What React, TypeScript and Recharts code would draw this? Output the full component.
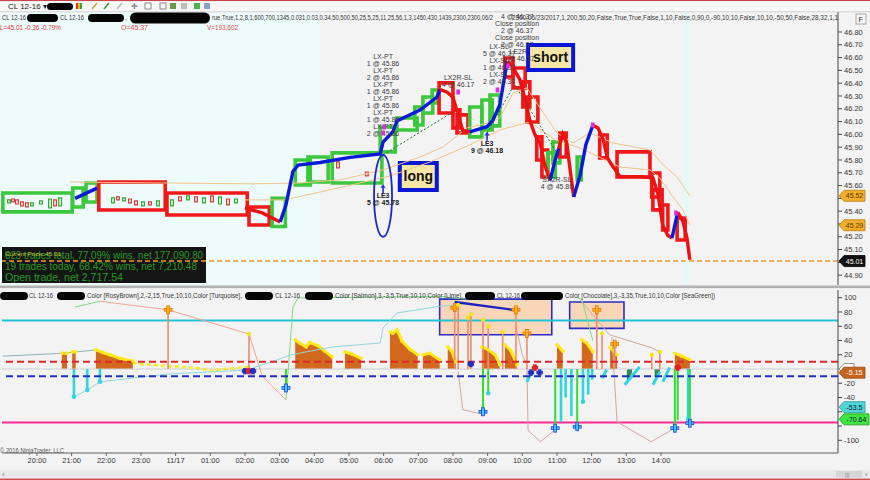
import React from 'react';
import {
  ComposedChart, Line, Area, XAxis, YAxis,
  ReferenceArea, ReferenceLine, ReferenceDot,
} from 'recharts';

const FONT = '"Liberation Sans", Arial, Helvetica, sans-serif';

/* ---------- time axis: minutes after 19:00 on 11/16 ---------- */
const timeTicks = [60, 120, 180, 240, 300, 360, 420, 480, 540, 600, 660, 720, 780, 840, 900, 960, 1020, 1080, 1140];
const timeLabels = ['20:00', '21:00', '22:00', '23:00', '11/17', '01:00', '02:00', '03:00', '04:00', '05:00', '06:00', '07:00', '08:00', '09:00', '10:00', '11:00', '12:00', '13:00', '14:00'];
const timeMin = -0.5;
const timeMax = 1446.4;

/* ---------- price panel ---------- */
const priceTicks = [44.9, 45.0, 45.1, 45.2, 45.3, 45.4, 45.5, 45.6, 45.7, 45.8, 45.9, 46.0, 46.1, 46.2, 46.3, 46.4, 46.5, 46.6, 46.7, 46.8];
const priceTicksUnderFlags = [45.0, 45.3, 45.5];
const priceMin = 44.823;
const priceMax = 46.956;
const lastPrice = 45.01;
const upperEnvLast = 45.52;
const lowerEnvLast = 45.29;

// price path, d = direction of the segment that starts at the point (u up / d down / x none)
const priceLine = [
  { t: 126, p: 45.50, d: 'u' }, { t: 164, p: 45.58, d: 'x' },
  { t: 420, p: 45.425, d: 'd' }, { t: 450, p: 45.386, d: 'd' }, { t: 481, p: 45.316, d: 'u' },
  { t: 491, p: 45.45, d: 'u' }, { t: 503, p: 45.71, d: 'u' }, { t: 512, p: 45.76, d: 'u' }, { t: 550, p: 45.78, d: 'u' },
  { t: 602, p: 45.82, d: 'u' }, { t: 654, p: 45.847, d: 'u' }, { t: 659, p: 45.94, d: 'u' }, { t: 676, p: 46.02, d: 'u' },
  { t: 683, p: 46.105, d: 'u' }, { t: 723, p: 46.19, d: 'u' }, { t: 752, p: 46.29, d: 'u' }, { t: 758, p: 46.35, d: 'd' },
  { t: 770, p: 46.33, d: 'd' }, { t: 780, p: 46.29, d: 'd' }, { t: 789, p: 46.15, d: 'd' }, { t: 797, p: 46.03, d: 'd' },
  { t: 809, p: 46.02, d: 'u' }, { t: 839, p: 46.06, d: 'u' }, { t: 849, p: 46.11, d: 'u' }, { t: 861, p: 46.23, d: 'u' },
  { t: 867, p: 46.39, d: 'u' }, { t: 874, p: 46.57, d: 'd' }, { t: 882, p: 46.54, d: 'd' }, { t: 896, p: 46.425, d: 'd' },
  { t: 905, p: 46.27, d: 'd' }, { t: 913, p: 46.11, d: 'd' }, { t: 922, p: 45.995, d: 'd' }, { t: 931, p: 45.93, d: 'd' },
  { t: 939, p: 45.76, d: 'd' }, { t: 948, p: 45.64, d: 'u' }, { t: 957, p: 45.80, d: 'u' }, { t: 963, p: 45.89, d: 'd' },
  { t: 970, p: 46.00, d: 'd' }, { t: 977, p: 45.93, d: 'd' }, { t: 984, p: 45.68, d: 'd' }, { t: 989, p: 45.51, d: 'u' },
  { t: 1000, p: 45.68, d: 'u' }, { t: 1010, p: 45.92, d: 'u' }, { t: 1022, p: 46.07, d: 'd' }, { t: 1031, p: 46.05, d: 'd' },
  { t: 1040, p: 45.96, d: 'd' }, { t: 1047, p: 45.82, d: 'd' }, { t: 1055, p: 45.76, d: 'd' }, { t: 1069, p: 45.67, d: 'd' },
  { t: 1104, p: 45.67, d: 'd' }, { t: 1126, p: 45.66, d: 'd' }, { t: 1135, p: 45.53, d: 'd' }, { t: 1143, p: 45.29, d: 'd' },
  { t: 1152, p: 45.21, d: 'd' }, { t: 1159, p: 45.19, d: 'u' }, { t: 1164, p: 45.29, d: 'u' }, { t: 1169, p: 45.39, d: 'd' },
  { t: 1178, p: 45.32, d: 'd' }, { t: 1185, p: 45.19, d: 'd' }, { t: 1190, p: 45.02, d: 'x' },
];

// swing boxes
const priceBoxes = [
  { t0: 1, t1: 121, hi: 45.542, lo: 45.394, up: true },
  { t0: 122, t1: 140, hi: 45.581, lo: 45.433, up: true },
  { t0: 145, t1: 164, hi: 45.620, lo: 45.472, up: true },
  { t0: 167, t1: 282, hi: 45.628, lo: 45.409, up: false },
  { t0: 285, t1: 424, hi: 45.542, lo: 45.370, up: false },
  { t0: 427, t1: 462, hi: 45.433, lo: 45.292, up: false },
  { t0: 467, t1: 490, hi: 45.50, lo: 45.28, up: true },
  { t0: 507, t1: 533, hi: 45.80, lo: 45.605, up: true },
  { t0: 529, t1: 564, hi: 45.823, lo: 45.628, up: true },
  { t0: 571, t1: 657, hi: 45.855, lo: 45.620, up: true },
  { t0: 654, t1: 680, hi: 46.058, lo: 45.863, up: true },
  { t0: 683, t1: 718, hi: 46.128, lo: 46.034, up: true },
  { t0: 714, t1: 728, hi: 46.214, lo: 46.073, up: true },
  { t0: 728, t1: 745, hi: 46.292, lo: 46.167, up: true },
  { t0: 744, t1: 754, hi: 46.347, lo: 46.245, up: true },
  { t0: 756, t1: 780, hi: 46.402, lo: 46.167, up: false },
  { t0: 780, t1: 792, hi: 46.191, lo: 46.05, up: false },
  { t0: 787, t1: 806, hi: 46.152, lo: 46.011, up: false },
  { t0: 809, t1: 830, hi: 46.214, lo: 45.98, up: true },
  { t0: 830, t1: 848, hi: 46.269, lo: 46.034, up: true },
  { t0: 844, t1: 861, hi: 46.308, lo: 46.066, up: true },
  { t0: 870, t1: 884, hi: 46.597, lo: 46.448, up: false },
  { t0: 884, t1: 905, hi: 46.519, lo: 46.363, up: false },
  { t0: 901, t1: 913, hi: 46.41, lo: 46.214, up: false },
  { t0: 908, t1: 927, hi: 46.292, lo: 46.097, up: false },
  { t0: 925, t1: 934, hi: 45.98, lo: 45.80, up: false },
  { t0: 934, t1: 944, hi: 45.878, lo: 45.667, up: false },
  { t0: 944, t1: 957, hi: 45.855, lo: 45.667, up: true },
  { t0: 953, t1: 965, hi: 45.941, lo: 45.777, up: true },
  { t0: 965, t1: 976, hi: 46.011, lo: 45.823, up: false },
  { t0: 995, t1: 1002, hi: 45.823, lo: 45.644, up: true },
  { t0: 1034, t1: 1047, hi: 45.995, lo: 45.816, up: false },
  { t0: 1064, t1: 1121, hi: 45.863, lo: 45.667, up: false },
  { t0: 1124, t1: 1138, hi: 45.698, lo: 45.511, up: false },
  { t0: 1126, t1: 1142, hi: 45.566, lo: 45.41, up: false },
  { t0: 1143, t1: 1152, hi: 45.448, lo: 45.253, up: false },
  { t0: 1168, t1: 1182, hi: 45.347, lo: 45.175, up: false },
];

// small bars inside the early boxes [time, open, close]
const miniBars = [
  [11.6, 45.464, 45.488], [18.5, 45.495, 45.472], [25.4, 45.488, 45.456], [34, 45.472, 45.441], [42.7, 45.464, 45.433],
  [51.4, 45.441, 45.464], [67, 45.456, 45.48], [82.6, 45.425, 45.495], [91.3, 45.488, 45.441], [100, 45.441, 45.503],
  [191.6, 45.464, 45.503], [200.2, 45.511, 45.488], [210.6, 45.48, 45.503], [221, 45.495, 45.464], [231.4, 45.48, 45.449],
  [243.5, 45.441, 45.472], [255.6, 45.472, 45.449], [269.5, 45.441, 45.48],
  [293.7, 45.441, 45.488], [307.5, 45.511, 45.48], [321.4, 45.488, 45.519], [335.2, 45.511, 45.472], [349, 45.464, 45.503],
  [362.9, 45.519, 45.472], [376.7, 45.456, 45.511], [390.6, 45.495, 45.449], [404.4, 45.464, 45.495],
  [581, 45.785, 45.738], [631, 45.706, 45.675],
];

const upperEnvT = [117, 429, 515, 585, 659, 723, 763, 804, 849, 861, 884, 908, 925, 960, 988, 1017, 1057, 1121, 1144, 1168, 1190];
const upperEnvP = [45.628, 45.613, 45.62, 45.644, 45.722, 45.823, 45.902, 46.05, 46.097, 46.128, 46.323, 46.363, 46.245, 46.011, 45.933, 46.011, 45.933, 45.878, 45.761, 45.667, upperEnvLast];
const lowerEnvT = [420, 489, 597, 671, 740, 809, 861, 913, 957, 1000, 1069, 1121, 1138, 1161, 1178, 1190];
const lowerEnvP = [45.488, 45.488, 45.597, 45.675, 45.784, 45.917, 46.034, 46.097, 45.956, 45.894, 45.745, 45.722, 45.659, 45.511, 45.409, lowerEnvLast];

const tradeLinks = [
  [659, 45.84, 780, 46.175],
  [839, 46.011, 884, 46.37],
  [887, 46.386, 960, 45.855],
];

const exitMarks = [[659, 46.011], [661, 46.058], [789, 46.331], [857, 46.347], [875, 46.534], [1022, 46.073], [1166, 45.386]];

const textNotes = [
  { t: 659, p: 46.59, lines: ['LX-PT', '1 @ 45.86', 'LX-PT', '2 @ 45.86', 'LX-PT', '1 @ 45.86', 'LX-PT', '1 @ 45.86', 'LX-PT', '1 @ 45.86', 'LX-PT', '2 @ 45.86'] },
  { t: 789, p: 46.425, lines: ['LX2R-SL', '4 @ 46.17'] },
  { t: 960, p: 45.624, lines: ['SX2R-SL', '4 @ 45.86'] },
  { t: 891, p: 46.90, lines: ['4 @ 46.37', 'Close position', '2 @ 46.37', 'Close position', '2 @ 46.37'] },
  { t: 860, p: 46.667, lines: ['LX-SL', '5 @ 46.37', 'LX-SL', '1 @ 46.37', 'LX-SL', '2 @ 46.37'] },
  { t: 893, p: 46.628, lines: ['LE2R', '1 @ 46.37'] },
];

const entries = [
  { t: 659, p: 45.61, name: 'LE3', fill: '5 @ 45.78' },
  { t: 839, p: 46.02, name: 'LE3', fill: '9 @ 46.18' },
];

const tagBoxes = [
  { t0: 688, t1: 752, hi: 45.777, lo: 45.566, text: 'long' },
  { t0: 910, t1: 988, hi: 46.698, lo: 46.503, text: 'short' },
];
const entryCircle = { t: 659, p: 45.519 };

/* ---------- oscillator panel ---------- */
const oscMin = -117.8;
const oscMax = 110.8;
const oscTicks = [100, 80, 60, 40, 20, -20, -40, -60, -80, -100];
const oscTicksUnderFlags = [-60, -80];
const levelHigh = 68;
const levelBuy = 10;
const levelSell = -10;
const levelLow = -75;

const chocoSegments = [
  [[103, 22], [112, 22]],
  [[121, 24], [127, 24]],
  [[162, 27], [174, 23], [186, 20], [204, 15], [226, 11]],
  [[507, 41], [515, 36], [526, 31], [532, 37], [546, 33], [558, 25], [571, 17]],
  [[593, 24], [605, 21], [621, 15]],
  [[671, 52], [676, 50], [683, 55], [692, 39], [705, 28], [719, 20]],
  [[728, 20], [740, 22], [757, 13]],
  [[771, 31], [778, 25], [785, 10]],
  [[830, 31], [841, 27], [853, 20], [861, 6]],
  [[870, 34], [880, 26], [891, 6]],
  [[960, 34], [970, 25]],
  [[1003, 41], [1012, 36], [1022, 24]],
  [[1052, 30], [1064, 20]],
  [[1164, 22], [1176, 18], [1190, 13]],
];
const seaGreenSegments = [
  [[1081, -22], [1090, -5]],
  [[1129, -12], [1138, -4]],
];
const yellowDrift = [[226, 8], [290, 4], [340, 1], [360, -2], [427, 3]];

const tealLine = [[1, 18], [105, 22], [164, 27]];
const turquoiseLine = [[124, -39], [147, -29.5], [169, -18], [288, -7], [424, -1.4], [475, 12.6], [498, 19.6], [572, 31], [654, 36.5], [659, 57.5], [683, 78.5], [757, 88], [790, 90]];
const limeLineA = [[126, 87], [169, 95]];
const limeLineB = [[491, -43.5], [503, 87], [512, 99.6], [757, 102], [800, 98], [818, 99], [830, 96]];
const limeLineC = [[995, 100], [1003, 98], [1012, 70], [1022, 40]];
const salmonLine = [[169, 95], [287, 83], [427, 49], [450, -10], [491, -43.5]];
const rosyLines = [
  [[789, -4], [797, -57], [823, -62], [832, -60]],
  [[889, 60], [900, 20], [908, 5.6], [910, -86], [931, -102], [953, -88], [957, -83]],
  [[1000, 97], [1051, 48], [1123, 30], [1138, 24]],
  [[1055, 45], [1064, -74], [1123, -102], [1153, -88], [1164, -83]],
];
const cyanStrokes = [
  [[908, -18], [918, -2]],
  [[1038, -13], [1046, -1]],
  [[1077, -22], [1090, -10], [1103, 3]],
  [[1126, -22], [1138, -4]],
  [[1143, -18], [1155, 2]],
];

const upSpikeT = [287, 427, 783, 789, 806, 811, 832, 841, 866, 889, 908, 1029, 1038, 1060, 1124, 1138];
const upSpikeV = [83, 49, 86, 90, 72, 77, 69, 60, 52, 83, 50, 83, 50, 35, 20, 24];
const upSpikeMark = ['p', 'd', 'p', 'd', 'd', 'd', 'd', 'd', 'd', 'p', 'p', 'p', 'd', 'p', 'd', 'd'];

const downSpikeT = [124, 147, 169, 491, 832, 841, 957, 967, 975, 985, 995, 1005, 1014, 1021, 1164, 1169, 1187, 1190];
const downSpikeV = [-39, -29.5, -18, -26.6, -60, -34, -83, -74, -40, -66, -81, -46, -36, -15, -83, -72, -70, -76];
const downSpikeKind = ['c', 'c', 'c', 'g', 'g', 'g', 'g', 'c', 'c', 'c', 'g', 'c', 'c', 'c', 'g', 'g', 'c', 'g'];
const downSpikeMark = ['d', 'd', 'd', 'p', 'p', 'd', 'p', 'n', 'n', 'n', 'p', 'd', 'n', 'n', 'p', 'n', 'd', 'p'];

const zeroMarks = [[420, -3, 'b'], [427, -3, 'r'], [434, -3, 'b'], [811, 7, 'b'], [915, -5, 'b'], [922, 2, 'r'], [930, -5, 'b'], [1169, 2, 'r']];

const oscBoxes = [
  { t0: 757, t1: 951, hi: 98, lo: 48 },
  { t0: 982, t1: 1076, hi: 94, lo: 57 },
];
const oscTrend = [783, 94, 884, 83];

const oscFlags = [
  { v: 0, label: '0', fill: '#ffffff', color: '#333', stroke: '#777' },
  { v: -5.15, label: '-5.15', fill: '#c8641e', color: '#fff', stroke: '#9a4a10' },
  { v: -53.5, label: '-53.5', fill: '#4fd6d6', color: '#114', stroke: '#2a9a9a' },
  { v: -70.64, label: '-70.64', fill: '#3ee63e', color: '#114', stroke: '#1e9a1e' },
];
const priceFlags = [
  { v: upperEnvLast, label: '45.52', fill: '#f3ad2c', color: '#5a3a00', stroke: '#c07a10' },
  { v: lowerEnvLast, label: '45.29', fill: '#f3ad2c', color: '#5a3a00', stroke: '#c07a10' },
  { v: lastPrice, label: '45.01', fill: '#111111', color: '#ffffff', stroke: '#000' },
];

/* ---------- helpers ---------- */
const pts = (arr: number[][]) => arr.map(([t, v]) => ({ t, v }));
const zip = (ts: number[], vs: number[]) => ts.map((t, i) => ({ t, v: vs[i] }));
const near = (list: number[], v: number) => list.some((q) => Math.abs(q - v) < 1e-6);

function buildRuns(list: any[]) {
  const runs: any[] = [];
  let i = 0;
  while (i < list.length - 1) {
    const dir = list[i].d;
    let j = i;
    while (j < list.length - 1 && list[j].d === dir) j++;
    if (dir !== 'x') runs.push({ dir, data: list.slice(i, j + 1).map((q: any) => ({ t: q.t, v: q.p })) });
    i = j;
  }
  return runs;
}

const flagShape = (f: any) => (p: any) => {
  const x = p.cx + 1;
  const y = p.cy;
  const w = f.label.length > 5 ? 25 : f.label.length > 2 ? 21 : 10;
  return (
    <g>
      <path d={`M${x},${y} L${x + 5},${y - 5.5} L${x + 5 + w},${y - 5.5} L${x + 5 + w},${y + 5.5} L${x + 5},${y + 5.5} Z`} fill={f.fill} stroke={f.stroke} strokeWidth={0.8} />
      <text x={x + 5 + w / 2} y={y + 2.5} fontSize={7} textAnchor="middle" fill={f.color} fontFamily={FONT}>{f.label}</text>
    </g>
  );
};

const plusShape = (fill: string, edge: string, s = 4) => (p: any) => (
  <g>
    <rect x={p.cx - s} y={p.cy - 1.4} width={s * 2} height={2.8} fill={fill} stroke={edge} strokeWidth={0.7} />
    <rect x={p.cx - 1.4} y={p.cy - s} width={2.8} height={s * 2} fill={fill} stroke={edge} strokeWidth={0.7} />
  </g>
);
const dotShape = (fill: string, r = 2.2) => (p: any) => <circle cx={p.cx} cy={p.cy} r={r} fill={fill} />;

const noteShape = (lines: string[]) => (p: any) => (
  <g>
    {lines.map((s, i) => (
      <text key={i} x={p.cx} y={p.cy + i * 7} fontSize={7} textAnchor="middle" fill="#3c3c3c" fontFamily={FONT}>{s}</text>
    ))}
  </g>
);

const entryShape = (name: string, fill: string) => (p: any) => (
  <g fontFamily={FONT}>
    <line x1={p.cx} y1={p.cy + 2} x2={p.cx} y2={p.cy + 9} stroke="#1d2fd6" strokeWidth={1.6} />
    <path d={`M${p.cx - 2.6},${p.cy + 3.6} L${p.cx},${p.cy} L${p.cx + 2.6},${p.cy + 3.6} Z`} fill="#1d2fd6" />
    <text x={p.cx} y={p.cy + 14} fontSize={7} fontWeight="bold" textAnchor="middle" fill="#1a1a1a">{name}</text>
    <text x={p.cx} y={p.cy + 21} fontSize={7} fontWeight="bold" textAnchor="middle" fill="#1a1a1a">{fill}</text>
  </g>
);

/* ---------- top chart ---------- */
function TopChart() {
  const runs = buildRuns(priceLine);
  return (
    <ComposedChart width={870} height={273} margin={{ top: 0, right: 0, bottom: 0, left: 2 }}>
      <XAxis type="number" dataKey="t" domain={[timeMin, timeMax]} allowDataOverflow hide />
      <YAxis
        type="number" orientation="right" width={32} domain={[priceMin, priceMax]} allowDataOverflow
        ticks={priceTicks} interval={0}
        tickFormatter={(v: number) => (near(priceTicksUnderFlags, v) ? '' : v.toFixed(2))}
        tick={{ fontSize: 7.5, fill: '#333', fontFamily: FONT }} tickSize={4}
        axisLine={{ stroke: '#444' }} tickLine={{ stroke: '#444' }}
      />
      {textNotes.map((n, i) => (
        <ReferenceDot key={'n' + i} x={n.t} y={n.p} r={0} ifOverflow="visible" shape={noteShape(n.lines)} />
      ))}
      <ReferenceLine y={lastPrice} stroke="#ef9a32" strokeWidth={1.4} strokeDasharray="5 3" ifOverflow="visible" />
      <Line data={zip(upperEnvT, upperEnvP)} dataKey="v" stroke="#f0c489" strokeWidth={1} dot={false} isAnimationActive={false} />
      <Line data={zip(lowerEnvT, lowerEnvP)} dataKey="v" stroke="#f0c489" strokeWidth={1} dot={false} isAnimationActive={false} />
      {miniBars.map(([t, o, c], i) => (
        <ReferenceArea key={'m' + i} x1={t - 2.4} x2={t + 2.4} y1={o} y2={c} fill="none" stroke={c >= o ? '#2fa82f' : '#d83a3a'} strokeWidth={1.2} ifOverflow="visible" />
      ))}
      {priceBoxes.map((b, i) => (
        <ReferenceArea key={'b' + i} x1={b.t0} x2={b.t1} y1={b.lo} y2={b.hi} fill="none" fillOpacity={0} stroke={b.up ? '#3cc83c' : '#f01818'} strokeWidth={3.6} ifOverflow="visible" />
      ))}
      {runs.map((r: any, i: number) => (
        <Line key={'r' + i} data={r.data} dataKey="v" stroke={r.dir === 'u' ? '#0a1ad8' : '#ee1111'} strokeWidth={3.4} dot={false} isAnimationActive={false} />
      ))}
      {tradeLinks.map(([a, b, c, d], i) => (
        <ReferenceLine key={'l' + i} segment={[{ x: a, y: b }, { x: c, y: d }]} stroke="#1f6a2a" strokeWidth={1} strokeDasharray="2 2" ifOverflow="visible" />
      ))}
      {exitMarks.map(([t, p], i) => (
        <ReferenceDot key={'x' + i} x={t} y={p} r={0} ifOverflow="visible" shape={(q: any) => <rect x={q.cx - 1.8} y={q.cy - 2.5} width={3.6} height={5} fill="#e02ae0" />} />
      ))}
      <ReferenceDot x={entryCircle.t} y={entryCircle.p} r={0} ifOverflow="visible"
        shape={(q: any) => <ellipse cx={q.cx} cy={q.cy} rx={9} ry={41} fill="none" stroke="#1a28c8" strokeWidth={1.8} />} />
      {entries.map((e, i) => (
        <ReferenceDot key={'e' + i} x={e.t} y={e.p} r={0} ifOverflow="visible" shape={entryShape(e.name, e.fill)} />
      ))}
      {tagBoxes.map((b, i) => (
        <ReferenceArea key={'g' + i} x1={b.t0} x2={b.t1} y1={b.lo} y2={b.hi} fill="#f6e6a6" fillOpacity={1} stroke="#0a16d6" strokeWidth={4} ifOverflow="visible"
          label={{ value: b.text, position: 'center', fontSize: 14, fontWeight: 'bold', fill: '#111', fontFamily: FONT }} />
      ))}
      {priceFlags.map((f, i) => (
        <ReferenceDot key={'f' + i} x={timeMax} y={f.v} r={0} ifOverflow="visible" shape={flagShape(f)} />
      ))}
    </ComposedChart>
  );
}

/* ---------- bottom chart ---------- */
function BottomChart() {
  return (
    <ComposedChart width={870} height={180} margin={{ top: 0, right: 0, bottom: 0, left: 2 }}>
      <XAxis
        type="number" dataKey="t" domain={[timeMin, timeMax]} allowDataOverflow ticks={timeTicks} interval={0}
        tickFormatter={(v: number) => timeLabels[timeTicks.indexOf(v)]}
        tick={{ fontSize: 7.5, fill: '#333', fontFamily: FONT }} tickSize={3} height={17}
        axisLine={{ stroke: '#a8a8a8', strokeWidth: 2 }} tickLine={{ stroke: '#666' }}
      />
      <YAxis
        type="number" orientation="right" width={32} domain={[oscMin, oscMax]} allowDataOverflow
        ticks={oscTicks} interval={0}
        tickFormatter={(v: number) => (near(oscTicksUnderFlags, v) ? '' : String(v))}
        tick={{ fontSize: 7.5, fill: '#333', fontFamily: FONT }} tickSize={4}
        axisLine={{ stroke: '#444' }} tickLine={{ stroke: '#444' }}
      />
      {oscBoxes.map((b, i) => (
        <ReferenceArea key={'ob' + i} x1={b.t0} x2={b.t1} y1={b.lo} y2={b.hi} fill="#f7d7b8" fillOpacity={1} stroke="#2b2bc8" strokeWidth={1.6} ifOverflow="visible" />
      ))}
      <ReferenceLine y={0} stroke="#cfcfcf" strokeWidth={1} />
      <ReferenceLine y={levelHigh} stroke="#22c3d4" strokeWidth={2} />
      <ReferenceLine y={levelLow} stroke="#ff2a92" strokeWidth={2} />
      {chocoSegments.map((s, i) => (
        <Area key={'c' + i} data={pts(s)} dataKey="v" baseValue={0} type="linear" fill="#d2691e" fillOpacity={1} stroke="#ffe81a" strokeWidth={3}
          dot={{ r: 1.8, fill: '#ffe81a', stroke: 'none' }} isAnimationActive={false} />
      ))}
      {seaGreenSegments.map((s, i) => (
        <Area key={'s' + i} data={pts(s)} dataKey="v" baseValue={0} type="linear" fill="#2e8b57" fillOpacity={1} stroke="none" isAnimationActive={false} />
      ))}
      <Line data={pts(yellowDrift)} dataKey="v" stroke="#ffe81a" strokeWidth={2.5} strokeDasharray="4 3" dot={false} isAnimationActive={false} />
      <Line data={pts(tealLine)} dataKey="v" stroke="#8fb3b3" strokeWidth={1} dot={false} isAnimationActive={false} />
      <Line data={pts(turquoiseLine)} dataKey="v" stroke="#8fd8dc" strokeWidth={1} dot={false} isAnimationActive={false} />
      <Line data={pts(limeLineA)} dataKey="v" stroke="#7ddc7d" strokeWidth={1} dot={false} isAnimationActive={false} />
      <Line data={pts(limeLineB)} dataKey="v" stroke="#7ddc7d" strokeWidth={1} dot={false} isAnimationActive={false} />
      <Line data={pts(limeLineC)} dataKey="v" stroke="#7ddc7d" strokeWidth={1} dot={false} isAnimationActive={false} />
      <Line data={pts(salmonLine)} dataKey="v" stroke="#f2a48e" strokeWidth={1} dot={false} isAnimationActive={false} />
      {rosyLines.map((s, i) => (
        <Line key={'rl' + i} data={pts(s)} dataKey="v" stroke="#cfa8a0" strokeWidth={1} dot={false} isAnimationActive={false} />
      ))}
      {upSpikeT.map((t, i) => (
        <ReferenceLine key={'us' + i} segment={[{ x: t, y: 0 }, { x: t, y: upSpikeV[i] }]} stroke="#f08a6c" strokeWidth={1.6} />
      ))}
      {downSpikeT.map((t, i) => (
        <ReferenceLine key={'ds' + i} segment={[{ x: t, y: 0 }, { x: t, y: downSpikeV[i] }]}
          stroke={downSpikeKind[i] === 'c' ? '#2fd6e2' : '#2fe02f'} strokeWidth={downSpikeKind[i] === 'c' ? 2.6 : 2} />
      ))}
      {cyanStrokes.map((s, i) => (
        <Line key={'cs' + i} data={pts(s)} dataKey="v" stroke="#2fd6e2" strokeWidth={3} dot={false} isAnimationActive={false} />
      ))}
      <ReferenceLine y={levelBuy} stroke="#e0262a" strokeWidth={2} strokeDasharray="7 4" />
      <ReferenceLine y={levelSell} stroke="#1f2fc0" strokeWidth={2} strokeDasharray="7 4" />
      <ReferenceLine segment={[{ x: oscTrend[0], y: oscTrend[1] }, { x: oscTrend[2], y: oscTrend[3] }]} stroke="#1c24c0" strokeWidth={2.4} />
      {upSpikeT.map((t, i) => (
        <ReferenceDot key={'um' + i} x={t} y={upSpikeV[i]} r={0} ifOverflow="visible"
          shape={upSpikeMark[i] === 'p' ? plusShape('#ffb01e', '#e07000') : dotShape('#f7e21a')} />
      ))}
      {downSpikeT.map((t, i) => (
        downSpikeMark[i] === 'n' ? null : (
          <ReferenceDot key={'dm' + i} x={t} y={downSpikeV[i]} r={0} ifOverflow="visible"
            shape={downSpikeMark[i] === 'p' ? plusShape('#3ec8ff', '#1a2fd0') : dotShape('#2fd6e2')} />
        )
      ))}
      {zeroMarks.map(([t, v, c]: any, i) => (
        <ReferenceDot key={'zm' + i} x={t} y={v} r={0} ifOverflow="visible"
          shape={plusShape(c === 'r' ? '#e02020' : '#2030c0', c === 'r' ? '#e02020' : '#2030c0', 2.8)} />
      ))}
      {oscFlags.map((f, i) => (
        <ReferenceDot key={'of' + i} x={timeMax} y={f.v} r={0} ifOverflow="visible" shape={flagShape(f)} />
      ))}
    </ComposedChart>
  );
}

/* ---------- info box ---------- */
function InfoBox() {
  return (
    <svg width={215} height={38} style={{ position: 'absolute', left: 1, top: 246 }}>
      <rect x={1} y={1} width={204} height={36} fill="#151515" />
      <g fontFamily={FONT} fill="#259b25">
        <text x={4} y={12.5} fontSize={10} textLength={198} lengthAdjust="spacingAndGlyphs">823 trades total, 77.09% wins, net 177,090.80</text>
        <text x={4} y={24} fontSize={10} textLength={192} lengthAdjust="spacingAndGlyphs">19 trades today, 68.42% wins, net 7,210.48</text>
        <text x={4} y={35} fontSize={10} textLength={118} lengthAdjust="spacingAndGlyphs">Open trade, net 2,717.54</text>
      </g>
      <text x={4} y={9.5} fontSize={6} fill="#cdbf3c" fontFamily={FONT} textLength={56} lengthAdjust="spacingAndGlyphs">Current Price: 45.01</text>
    </svg>
  );
}

/* ---------- window chrome & header texts ---------- */
function Blob({ x, y, w, h }: any) {
  return <rect x={x} y={y} width={w} height={h} rx={h / 2} fill="#050505" />;
}

function Overlay() {
  const T = (p: any) => <text fontFamily={FONT} fontSize={6.5} lengthAdjust="spacingAndGlyphs" {...p} />;
  return (
    <svg width={870} height={480} style={{ position: 'absolute', left: 0, top: 0, pointerEvents: 'none' }}>
      <rect x={0} y={0} width={870} height={1.2} fill="#c94444" />
      <rect x={0} y={1.2} width={870} height={10.3} fill="#f7f7f7" />
      <line x1={0} y1={11.8} x2={870} y2={11.8} stroke="#d4d4d4" />
      <text x={8} y={9} fontSize={8} fill="#222" fontFamily={FONT}>CL 12-16 ▾</text>
      <Blob x={47} y={3} w={26} h={7} />
      <rect x={76} y={3} width={2} height={6} fill="#d33" /><rect x={78} y={3} width={2} height={6} fill="#e8c020" /><rect x={80} y={3} width={2} height={6} fill="#3a3" />
      <path d="M92,9 L97,3" stroke="#c9a030" strokeWidth={1.5} />
      <path d="M104,9 L109,3" stroke="#3a9a3a" strokeWidth={1.5} />
      <path d="M117,9 L122,3" stroke="#bbb" strokeWidth={1.5} />
      <text x={131} y={9} fontSize={8} fill="#555" fontFamily={FONT}>✛</text>
      <rect x={145} y={3} width={6} height={6} fill="none" stroke="#8a8a8a" />
      <rect x={160} y={3} width={6} height={6} fill="none" stroke="#8a8a8a" />
      <rect x={170} y={3} width={6} height={6} fill="#6a9a4a" />
      <rect x={181} y={3} width={6} height={6} fill="#bdbdbd" />
      <rect x={194} y={3} width={6} height={6} fill="#4caf50" />
      <rect x={204} y={3} width={6} height={6} fill="#8aa0c8" />

      {/* price panel header */}
      <T x={2} y={20} fill="#333" textLength={24}>CL 12-16</T>
      <Blob x={27} y={14} w={31} h={8} />
      <T x={60} y={20} fill="#333" textLength={24}>CL 12-16</T>
      <Blob x={88} y={14} w={36} h={8} />
      <T x={125} y={20} fill="#333">,</T>
      <Blob x={130} y={12.5} w={80} h={11} />
      <T x={212} y={20} fill="#333" textLength={281}>rue,True,1,2,8,1,600,700,1345,0.031,0.03,0.34,50,500,50,25,5,25,11,25,56,1,3,1450,430,1439,2300,2300,06/2</T>
      <T x={512} y={20} fill="#333" textLength={326}>2300,06/23/2017,1,200,50,20,False,True,True,False,1,10,False,0,90,0,-90,10,10,False,10,10,-50,50,False,28,32,1,1</T>
      <T x={0} y={30} fill="#e23a3a" textLength={61}>L=45.01  -0.36  -0.79%</T>
      <T x={121} y={30} fill="#e04a4a" textLength={27}>O=45.37</T>
      <T x={207} y={30} fill="#e04a4a" textLength={31}>V=193,602</T>
      <rect x={856} y={14} width={10} height={10} fill="#f4f4f4" stroke="#999" strokeWidth={0.8} />
      <text x={858.5} y={22} fontSize={7.5} fill="#333" fontFamily={FONT}>F</text>

      {/* panel separator */}
      <rect x={0} y={285.5} width={870} height={2.6} fill="#b2b2b2" />

      {/* oscillator header */}
      <Blob x={0} y={292} w={28} h={8} />
      <T x={29} y={298} fill="#333" textLength={24}>CL 12-16</T>
      <Blob x={57} y={292} w={28} h={8} />
      <T x={87} y={298} fill="#333" textLength={155}>Color [RosyBrown],2,-2,15,True,10,10,Color [Turquoise],</T>
      <Blob x={245} y={292} w={28} h={8} />
      <T x={275} y={298} fill="#333" textLength={25}>CL 12-16</T>
      <Blob x={305} y={292} w={28} h={8} />
      <T x={335} y={298} fill="#333" textLength={128}>Color [Salmon],3,-3,5,True,10,10,Color [Lime],</T>
      <Blob x={465} y={292} w={30} h={8} />
      <T x={497} y={298} fill="#333" textLength={23}>CL 12-16</T>
      <Blob x={521} y={292} w={42} h={8} />
      <T x={565} y={298} fill="#333" textLength={150}>Color [Chocolate],3,-3,35,True,10,10,Color [SeaGreen])</T>

      <T x={0} y={453} fill="#555" textLength={64}>© 2016 NinjaTrader, LLC</T>

      {/* scroll bar */}
      <rect x={0} y={470} width={870} height={8.5} fill="#e9e9e9" />
      <text x={2} y={477} fontSize={7} fill="#666" fontFamily={FONT}>‹</text>
      <rect x={836} y={471} width={26} height={6.5} fill="#d6d6d6" />
      <text x={845} y={476.5} fontSize={6} fill="#888" fontFamily={FONT}>|||</text>
      <text x={865} y={477} fontSize={7} fill="#666" fontFamily={FONT}>›</text>
      <rect x={0} y={478.6} width={870} height={1.4} fill="#d24a4a" />
    </svg>
  );
}

export default function App() {
  return (
    <div style={{ position: 'absolute', left: 0, top: 0, width: 870, height: 480, overflow: 'hidden', background: '#f3f3f3', fontFamily: FONT }}>
      <div style={{ position: 'absolute', left: 0, top: 12, width: 320, height: 274, background: '#eefbfb' }} />
      <div style={{ position: 'absolute', left: 683, top: 12, width: 6, height: 274, background: '#e4f8f8' }} />
      <InfoBox />
      <div style={{ position: 'absolute', left: 0, top: 12 }}><TopChart /></div>
      <div style={{ position: 'absolute', left: 0, top: 290 }}><BottomChart /></div>
      <Overlay />
    </div>
  );
}
